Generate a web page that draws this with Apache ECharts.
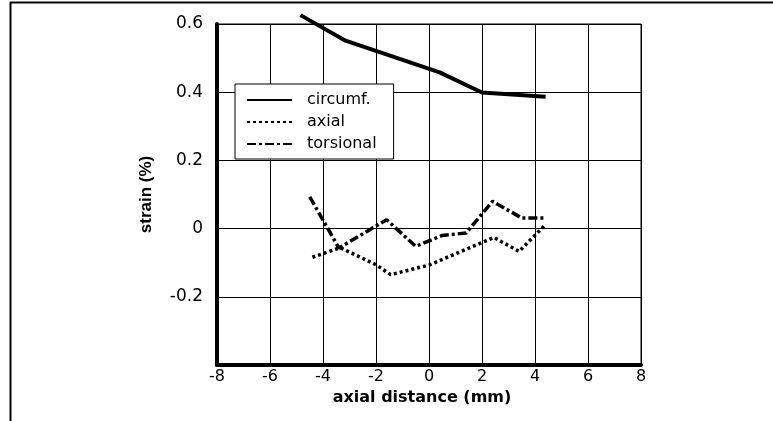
<!DOCTYPE html>
<html>
<head>
<meta charset="utf-8">
<script src="https://cdn.jsdelivr.net/npm/echarts@6/dist/echarts.min.js"></script>
<style>
html,body{margin:0;padding:0;background:#fff;}
#chart{width:773px;height:421px;}
</style>
</head>
<body>
<div id="chart"></div>
<script>
var seriesNames = ['circumf.', 'axial', 'torsional'];
var circumfX = [-4.85, -3.15, 0.4, 2.0, 4.4];
var circumfY = [0.626, 0.551, 0.458, 0.399, 0.387];
var axialX = [-4.4, -3.35, -2.0, -1.45, 0.0, 2.45, 3.4, 4.4];
var axialY = [-0.084, -0.056, -0.106, -0.135, -0.107, -0.026, -0.067, 0.012];
var torsionalX = [-4.5, -3.4, -1.6, -0.5, 0.5, 1.4, 2.4, 3.5, 4.4];
var torsionalY = [0.093, -0.057, 0.026, -0.052, -0.02, -0.013, 0.08, 0.031, 0.031];
var xTickLabels = ['-8', '-6', '-4', '-2', '0', '2', '4', '6', '8'];
var yTickLabels = ['', '-0.2', '0', '0.2', '0.4', '0.6'];
var xTitle = 'axial distance (mm)';
var yTitle = 'strain (%)';

function pairs(xs, ys) { return xs.map(function (x, i) { return [x, ys[i]]; }); }

var chart = echarts.init(document.getElementById('chart'), null, {renderer: 'canvas'});
var hFont = 'DejaVu Sans';
chart.setOption({
  animation: false,
  backgroundColor: '#fff',
  graphic: [
    {type: 'line', shape: {x1: 10, y1: 2.5, x2: 773, y2: 2.5}, style: {stroke: '#000', lineWidth: 2}},
    {type: 'line', shape: {x1: 10.5, y1: 2, x2: 10.5, y2: 421}, style: {stroke: '#000', lineWidth: 2}}
  ],
  grid: {left: 217, right: 132, top: 24, bottom: 56, show: true, borderColor: '#000', borderWidth: 1, backgroundColor: 'transparent'},
  legend: {
    left: 235, top: 84,
    orient: 'vertical',
    data: seriesNames,
    itemWidth: 45, itemHeight: 14, itemGap: 6,
    padding: [8, 17, 7, 11],
    borderColor: '#000', borderWidth: 1, backgroundColor: '#fff',
    itemStyle: {color: 'rgba(0,0,0,0)', borderWidth: 0, opacity: 0},
    textStyle: {fontFamily: hFont, fontSize: 16, color: '#000', padding: [0, 0, 0, 10]}
  },
  xAxis: {
    type: 'value', min: -8, max: 8, interval: 2,
    name: xTitle, nameLocation: 'middle', nameGap: 16,
    nameTextStyle: {fontFamily: hFont, fontWeight: 'bold', fontSize: 16, color: '#000', padding: [0, 14, 0, 0]},
    axisLine: {show: true, onZero: false, lineStyle: {color: '#000', width: 4}},
    axisTick: {show: false},
    axisLabel: {margin: 4, fontFamily: hFont, fontSize: 16, color: '#000',
      formatter: function (v) { return xTickLabels[Math.round((v + 8) / 2)]; }},
    splitLine: {show: true, lineStyle: {color: '#000', width: 1}}
  },
  yAxis: {
    type: 'value', min: -0.4, max: 0.6, interval: 0.2,
    name: yTitle, nameLocation: 'middle', nameGap: 62, nameRotate: 90,
    nameTextStyle: {fontFamily: 'Liberation Sans', fontWeight: 'bold', fontSize: 17, color: '#000'},
    axisLine: {show: true, onZero: false, lineStyle: {color: '#000', width: 4}},
    axisTick: {show: false},
    axisLabel: {margin: 14, fontFamily: hFont, fontSize: 17, color: '#000',
      formatter: function (v) { return yTickLabels[Math.round((v + 0.4) / 0.2)]; }},
    splitLine: {show: true, lineStyle: {color: '#000', width: 1}}
  },
  series: [
    {name: seriesNames[0], type: 'line', symbol: 'none', clip: false,
     itemStyle: {color: '#000'},
     data: pairs(circumfX, circumfY),
     lineStyle: {color: '#000', width: 4, type: 'solid'}},
    {name: seriesNames[1], type: 'line', symbol: 'none', clip: false,
     itemStyle: {color: '#000'},
     data: pairs(axialX, axialY),
     lineStyle: {color: '#000', width: 3.5, type: [3, 3], cap: 'butt'}},
    {name: seriesNames[2], type: 'line', symbol: 'none', clip: false,
     itemStyle: {color: '#000'},
     data: pairs(torsionalX, torsionalY),
     lineStyle: {color: '#000', width: 3.5, type: [9, 3, 3, 3], cap: 'butt'}}
  ]
});
</script>
</body>
</html>
